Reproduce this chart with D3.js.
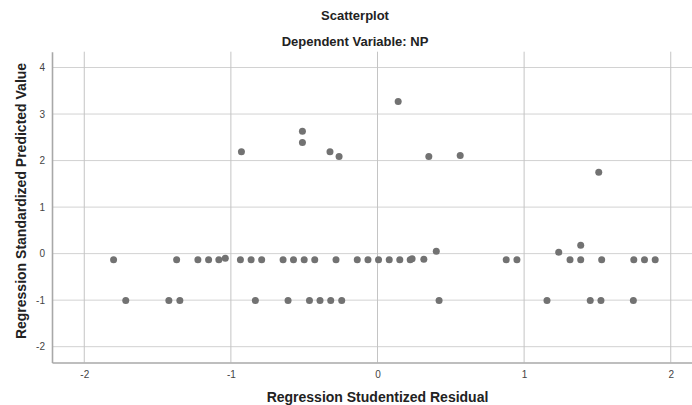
<!DOCTYPE html>
<html>
<head>
<meta charset="utf-8">
<script src="https://cdn.jsdelivr.net/npm/d3@7"></script>
<style>
  html, body { margin: 0; padding: 0; background: #fff; }
  svg { display: block; font-family: "Liberation Sans", Arial, sans-serif; }
</style>
</head>
<body>
<svg id="chart" width="692" height="405"></svg>
<script>
// Studentized residuals (x) and standardized predicted values (y)
const residuals = [
  -1.80, -1.37, -1.225, -1.152, -1.082, -1.038, -0.935, -0.862, -0.790, -0.644,
  -0.573, -0.500, -0.428, -0.283, -0.138, -0.065, 0.007, 0.080, 0.152, 0.223,
  0.236, 0.316, 0.401, 0.878, 0.951, 1.236, 1.313, 1.386, 1.386, 1.529,
  1.748, 1.821, 1.894,
  -1.717, -1.423, -1.348, -0.833, -0.610, -0.464, -0.392, -0.319, -0.244, 0.420,
  1.156, 1.451, 1.524, 1.745,
  -0.928, -0.512, -0.512, -0.324, -0.262, 0.141, 0.350, 0.564, 1.509
];
const predicted = [
  -0.13, -0.13, -0.13, -0.13, -0.13, -0.10, -0.13, -0.13, -0.13, -0.13,
  -0.13, -0.13, -0.13, -0.13, -0.13, -0.13, -0.13, -0.13, -0.13, -0.13,
  -0.11, -0.12, 0.05, -0.13, -0.13, 0.03, -0.13, -0.13, 0.18, -0.13,
  -0.13, -0.13, -0.13,
  -1.01, -1.01, -1.01, -1.01, -1.01, -1.01, -1.01, -1.01, -1.01, -1.01,
  -1.01, -1.01, -1.01, -1.01,
  2.19, 2.63, 2.39, 2.19, 2.09, 3.27, 2.09, 2.11, 1.75
];
const xTicks = [-2, -1, 0, 1, 2];
const yTicks = [-2, -1, 0, 1, 2, 3, 4];
const titleText = "Scatterplot";
const subtitleText = "Dependent Variable: NP";
const xTitle = "Regression Studentized Residual";
const yTitle = "Regression Standardized Predicted Value";

const svg = d3.select("#chart");
const pLeft = 52, pRight = 692, pTop = 51.7, pBottom = 362.5;

const x = d3.scaleLinear().domain([-2.22, 2.145]).range([pLeft, pRight]);
const y = d3.scaleLinear().domain([-2.34, 4.34]).range([pBottom, pTop]);

// gridlines
svg.append("g").selectAll("line").data(yTicks).join("line")
  .attr("x1", pLeft).attr("x2", pRight)
  .attr("y1", d => y(d)).attr("y2", d => y(d))
  .attr("stroke", "#d2d2d2").attr("stroke-width", 1);
svg.append("g").selectAll("line").data(xTicks).join("line")
  .attr("x1", d => x(d)).attr("x2", d => x(d))
  .attr("y1", pTop).attr("y2", pBottom)
  .attr("stroke", "#c4c4c4").attr("stroke-width", 1);

// axes
const fmt = d => String(d);
const xAxis = svg.append("g").attr("transform", `translate(0,${pBottom})`)
  .call(d3.axisBottom(x).tickValues(xTicks).tickSize(0).tickPadding(8).tickFormat(fmt));
xAxis.select(".domain").attr("stroke", "#a8a8a8").attr("stroke-width", 1.6);
xAxis.selectAll("text").attr("fill", "#444").style("font-size", "10px");

const yAxis = svg.append("g").attr("transform", `translate(${pLeft},0)`)
  .call(d3.axisLeft(y).tickValues(yTicks).tickSize(0).tickPadding(7).tickFormat(fmt));
yAxis.select(".domain").attr("stroke", "#a8a8a8").attr("stroke-width", 1.6);
yAxis.selectAll("text").attr("fill", "#444").style("font-size", "10px");

// points
const pts = residuals.map((r, i) => ({ r, p: predicted[i] }));
svg.append("g").selectAll("circle").data(pts).join("circle")
  .attr("cx", d => x(d.r)).attr("cy", d => y(d.p))
  .attr("r", 3.5).attr("fill", "#727272");

// titles
svg.append("text").attr("x", 355).attr("y", 20).attr("text-anchor", "middle")
  .style("font-size", "13px").style("font-weight", "bold").attr("fill", "#222").text(titleText);
svg.append("text").attr("x", 355).attr("y", 46).attr("text-anchor", "middle")
  .style("font-size", "13px").style("font-weight", "bold").attr("fill", "#222").text(subtitleText);
svg.append("text").attr("x", 377.5).attr("y", 401.5).attr("text-anchor", "middle")
  .style("font-size", "14px").style("font-weight", "bold").attr("fill", "#222").text(xTitle);
svg.append("text").attr("transform", "translate(26,201) rotate(-90)").attr("text-anchor", "middle")
  .style("font-size", "14px").style("font-weight", "bold").attr("fill", "#222").text(yTitle);
</script>
</body>
</html>
